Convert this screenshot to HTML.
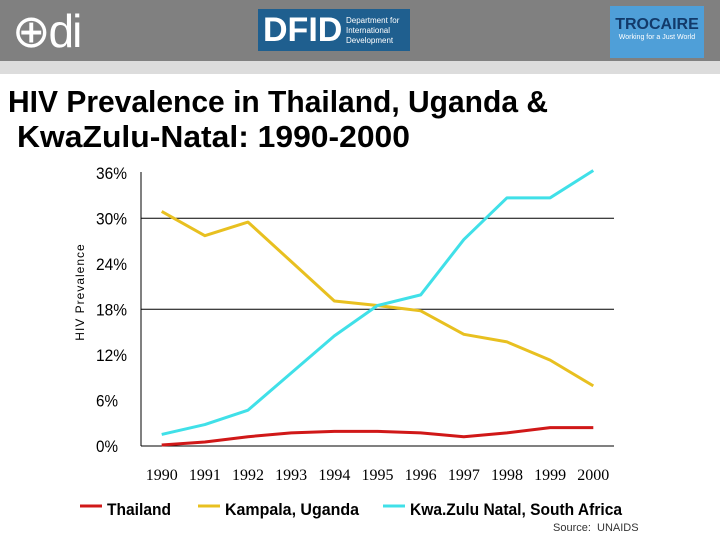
<!DOCTYPE html>
<html><head><meta charset="utf-8"><style>
body{margin:0;width:720px;height:540px;background:#fff;overflow:hidden;font-family:"Liberation Sans",sans-serif;position:relative}
</style></head><body>
<div style="position:absolute;left:0;top:0;width:720px;height:61px;background:#808080"></div>
<div style="position:absolute;left:0;top:61px;width:720px;height:13px;background:#dcdcdc"></div>
<div style="position:absolute;left:12px;top:4px;color:#fff;font-size:46px;letter-spacing:-2px">⊕di</div>
<div style="position:absolute;left:258px;top:9px;width:152px;height:42px;background:#1f5f8f;color:#fff">
<span style="position:absolute;left:5px;top:2px;font-size:34px;font-weight:bold">DFID</span>
<span style="position:absolute;left:88px;top:7px;font-size:8px;line-height:10px">Department for<br>International<br>Development</span></div>
<div style="position:absolute;left:610px;top:6px;width:94px;height:52px;background:#4f9fd8;color:#fff;text-align:center">
<div style="font-weight:bold;font-size:16px;margin-top:10px;color:#123a6a">TROCAIRE</div><div style="font-size:7px">Working for a Just World</div></div>
<svg id="c" width="720" height="540" style="position:absolute;left:0;top:0">
<text x="8" y="112" font-size="31" font-weight="bold" textLength="540" lengthAdjust="spacingAndGlyphs">HIV Prevalence in Thailand, Uganda &amp;</text>
<text x="17" y="147" font-size="31" font-weight="bold" textLength="393" lengthAdjust="spacingAndGlyphs">KwaZulu-Natal: 1990-2000</text>
</svg>
<div style="position:absolute;left:553px;top:522px;font-size:11px;color:#333">Source:&nbsp; UNAIDS</div>
<script>
const years=[1990,1991,1992,1993,1994,1995,1996,1997,1998,1999,2000];
const thailand=[0.1,0.5,1.2,1.7,1.9,1.9,1.7,1.2,1.7,2.4,2.4];
const kampala=[30.9,27.7,29.5,24.3,19.1,18.5,17.8,14.7,13.7,11.3,7.9];
const kzn=[1.5,2.8,4.7,9.6,14.5,18.5,19.9,27.2,32.7,32.7,36.3];
const yTicks=[0,6,12,18,24,30,36];
const seriesNames=["Thailand","Kampala, Uganda","Kwa.Zulu Natal, South Africa"];
const svg=document.getElementById('c');const NS='http://www.w3.org/2000/svg';
function X(i){return 161.7+(593.3-161.7)*i/(years.length-1);}
function Y(v){return 445.8-v*(445.8-172.8)/36;}
function mk(t,a){const e=document.createElementNS(NS,t);for(const k in a)e.setAttribute(k,a[k]);svg.appendChild(e);return e;}
[18,30].forEach(v=>{const g=mk('line',{x1:141,x2:614,y1:Y(v),y2:Y(v),stroke:'#000','stroke-width':1});

});
let ax=mk('line',{x1:141,x2:141,y1:172,y2:446,stroke:'#000'});


ax=mk('line',{x1:141,x2:614,y1:446,y2:446,stroke:'#000'});


yTicks.forEach(v=>{const t=mk('text',{x:96,y:Y(v)+6,'font-size':17,textLength:(v<10?22:31),lengthAdjust:'spacingAndGlyphs'});t.textContent=v+'%';

});
years.forEach((y,i)=>{const t=mk('text',{x:X(i),y:480,'font-size':16,'text-anchor':'middle','font-family':'Liberation Serif, serif'});t.textContent=y;

});
let yt=mk('text',{x:0,y:0,'font-size':12,'letter-spacing':1,'text-anchor':'middle',transform:'translate(84,292) rotate(-90)'});yt.textContent='HIV Prevalence';


const cols=['#d01818','#e8c020','#40e0e8'];
[thailand,kampala,kzn].forEach((s,k)=>{const p=mk('polyline',{points:s.map((v,i)=>X(i)+','+Y(v)).join(' '),fill:'none',stroke:cols[k],'stroke-width':3,'stroke-linejoin':'round'});

});
const lx=[80,198,383];const lw=[64,134,212];
seriesNames.forEach((n,k)=>{const l=mk('line',{x1:lx[k],x2:lx[k]+22,y1:506,y2:506,stroke:cols[k],'stroke-width':3});


const t=mk('text',{x:lx[k]+27,y:515,'font-size':17,'font-weight':'bold',textLength:lw[k],lengthAdjust:'spacingAndGlyphs'});t.textContent=n;

});
</script>
</body></html>
